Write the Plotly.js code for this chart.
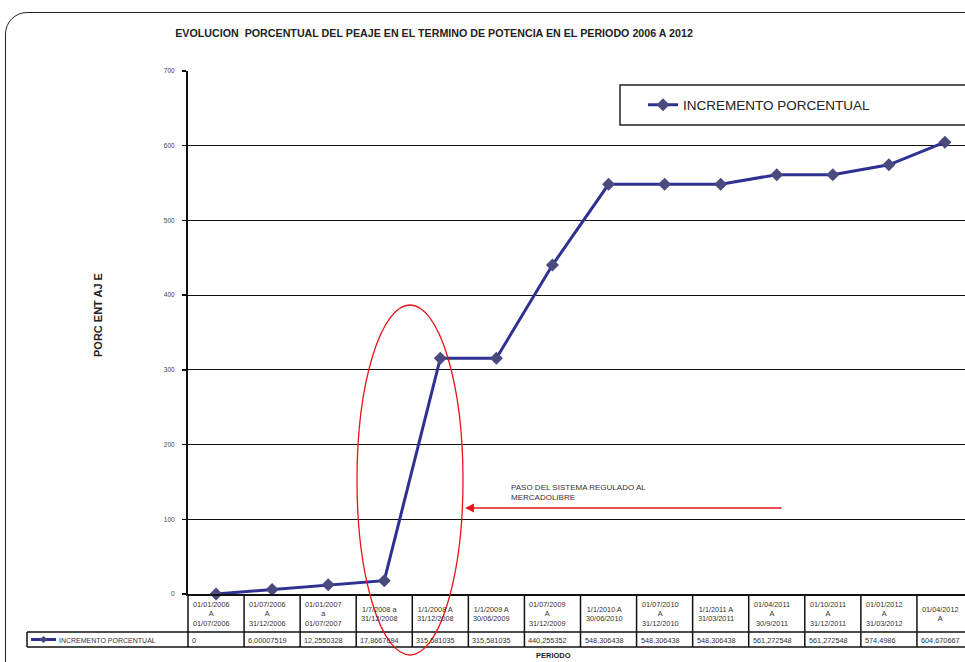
<!DOCTYPE html>
<html>
<head>
<meta charset="utf-8">
<script src="https://cdn.plot.ly/plotly-3.0.1.min.js"></script>
<style>
html,body{margin:0;padding:0;overflow:hidden;background:#fff;width:965px;height:662px;}
#frame{position:absolute;left:5px;top:12px;width:1040px;height:700px;border:1.4px solid #222;border-radius:22px;box-sizing:border-box;pointer-events:none;z-index:2;}
#chart{position:absolute;left:0;top:0;width:990px;height:662px;}
</style>
</head>
<body>
<div id="chart"></div>
<div id="frame"></div>
<script>
// ---- data ----
const periodLabels = [
  "01/01/2006<br>A<br>01/07/2006",
  "01/07/2006<br>A<br>31/12/2006",
  "01/01/2007<br>a<br>01/07/2007",
  "1/7/2008 a<br>31/12/2008",
  "1/1/2008 A<br>31/12/2008",
  "1/1/2009 A<br>30/06/2009",
  "01/07/2009<br>A<br>31/12/2009",
  "1/1/2010 A<br>30/06/2010",
  "01/07/2010<br>A<br>31/12/2010",
  "1/1/2011 A<br>31/03/2011",
  "01/04/2011<br>A<br>30/9/2011",
  "01/10/2011<br>A<br>31/12/2011",
  "01/01/2012<br>A<br>31/03/2012",
  "01/04/2012<br>A"
];
const incremento = [0, 6.00007519, 12.2550328, 17.8667694, 315.581035, 315.581035,
  440.255352, 548.306438, 548.306438, 548.306438, 561.272548, 561.272548, 574.4986, 604.670667];
const valueLabels = ["0","6,00007519","12,2550328","17,8667694","315,581035","315,581035",
  "440,255352","548,306438","548,306438","548,306438","561,272548","561,272548","574,4986","604,670667"];
const yTicks = [0,100,200,300,400,500,600,700];
const seriesName = "INCREMENTO PORCENTUAL";
const titleText = "EVOLUCION  PORCENTUAL DEL PEAJE EN EL TERMINO DE POTENCIA EN EL PERIODO 2006 A 2012";
const noteText = "PASO DEL SISTEMA REGULADO AL<br>MERCADOLIBRE";

// ---- geometry helpers (pixel -> paper) ----
const W = 990, H = 662, ML = 188, MR = 17, MT = 71, MB = 68;
const PW = W - ML - MR, PH = H - MT - MB;
const px = x => (x - ML) / PW;
const py = y => (H - MB - y) / PH;
const n = incremento.length;
const xs = incremento.map((_, i) => i);

const FONT = "Liberation Sans, Arial, sans-serif";
const shapes = [];
const annotations = [];

// table borders
const tLine = {color: "#111", width: 1.5};
shapes.push({type:"line", xref:"paper", yref:"paper", x0:0, x1:1, y0:py(632), y1:py(632), line:tLine});
shapes.push({type:"line", xref:"paper", yref:"paper", x0:px(27), x1:1, y0:py(647), y1:py(647), line:tLine});
shapes.push({type:"line", xref:"paper", yref:"paper", x0:px(27), x1:0, y0:py(632), y1:py(632), line:tLine});
shapes.push({type:"line", xref:"paper", yref:"paper", x0:px(27), x1:px(27), y0:py(632), y1:py(647), line:tLine});
for (let k = 0; k <= n; k++) {
  shapes.push({type:"line", xref:"paper", yref:"paper", x0:k/n, x1:k/n, y0:0, y1:py(647), line:tLine});
}
// legend sample in table
shapes.push({type:"line", xref:"paper", yref:"paper", x0:px(31), x1:px(56), y0:py(639.5), y1:py(639.5), line:{color:"#2E3192", width:3}});
const dx = 4/PW, dy = 3.5/PH, cx = px(43.5), cy = py(639.5);
shapes.push({type:"path", xref:"paper", yref:"paper",
  path:`M ${cx-dx} ${cy} L ${cx} ${cy+dy} L ${cx+dx} ${cy} L ${cx} ${cy-dy} Z`,
  fillcolor:"#4B4A7F", line:{width:0}});
annotations.push({xref:"paper", yref:"paper", x:px(57), y:py(640), xanchor:"left", yanchor:"middle",
  text:seriesName, showarrow:false, font:{family:FONT, size:7, color:"#333"}});

// legend box
shapes.push({type:"rect", xref:"paper", yref:"paper", x0:px(620), x1:px(985), y0:py(125), y1:py(85),
  line:{color:"#222", width:1.5}, fillcolor:"#fff", layer:"above"});

// red ellipse
shapes.push({type:"circle", xref:"paper", yref:"paper", x0:px(357), x1:px(463), y0:py(655), y1:py(305),
  line:{color:"#E8141B", width:1.3}});

// table text
periodLabels.forEach((t, i) => {
  annotations.push({xref:"x", yref:"paper", x:i-0.5, xshift:3, y:py(614), xanchor:"left", yanchor:"middle",
    text:t, align:"center", showarrow:false, font:{family:FONT, size:7.3, color:"#333"}});
});
valueLabels.forEach((t, i) => {
  annotations.push({xref:"x", yref:"paper", x:i-0.5, xshift:2, y:py(640), xanchor:"left", yanchor:"middle",
    text:t, showarrow:false, font:{family:FONT, size:7.3, color:"#333"}});
});

// axis titles etc.
annotations.push({xref:"paper", yref:"paper", x:px(98), y:py(315), textangle:-90, xanchor:"center", yanchor:"middle",
  text:"<b>PORC ENT AJ E</b>", showarrow:false, font:{family:FONT, size:11, color:"#222"}});
annotations.push({xref:"paper", yref:"paper", x:px(553), y:py(655), xanchor:"center", yanchor:"middle",
  text:"<b>PERIODO</b>", showarrow:false, font:{family:FONT, size:7.5, color:"#222"}});

// red arrow + note
annotations.push({xref:"paper", yref:"paper", x:px(465), y:py(508), ax:318, ay:0, text:"",
  showarrow:true, arrowhead:2, arrowsize:1.2, arrowwidth:1.5, arrowcolor:"#E8141B"});
annotations.push({xref:"paper", yref:"paper", x:px(509), y:py(492), xanchor:"left", yanchor:"middle",
  text:noteText, align:"left", showarrow:false, font:{family:FONT, size:8, color:"#333"}});

const trace = {
  x: xs, y: incremento, name: seriesName, type: "scatter", mode: "lines+markers",
  line: {color:"#2E3192", width:3},
  marker: {symbol:"diamond", size:10, color:"#4B4A7F"},
  cliponaxis: false
};

const layout = {
  width: W, height: H,
  margin: {l:ML, r:MR, t:MT, b:MB},
  paper_bgcolor: "rgba(0,0,0,0)", plot_bgcolor: "#fff",
  font: {family: FONT, color:"#333"},
  title: {text: "<b>" + titleText + "</b>", xref:"container", yref:"container",
    x: 434/W, y: (H-33)/H, xanchor:"center", yanchor:"middle",
    font:{family:FONT, size:10.7, color:"#222"}},
  xaxis: {range:[-0.5, n-0.5], showticklabels:false, showgrid:false, zeroline:false,
    showline:true, linecolor:"#111", linewidth:2, ticks:"", fixedrange:true},
  yaxis: {range:[0,700], tickvals:yTicks, ticktext:yTicks.map(String), showgrid:true, gridcolor:"#111", gridwidth:1,
    zeroline:false, showline:true, linecolor:"#111", linewidth:2, ticks:"outside", ticklen:4,
    tickcolor:"#111", tickwidth:1.5, tickfont:{family:FONT, size:6.5, color:"#444"}, ticklabelstandoff:6},
  showlegend: true,
  legend: {x: px(643), y: py(105), xanchor:"left", yanchor:"middle", bgcolor:"rgba(0,0,0,0)",
    borderwidth:0, font:{family:FONT, size:13.5, color:"#222"}},
  shapes: shapes,
  annotations: annotations
};

Plotly.newPlot("chart", [trace], layout, {displayModeBar:false, staticPlot:true});
</script>
</body>
</html>
